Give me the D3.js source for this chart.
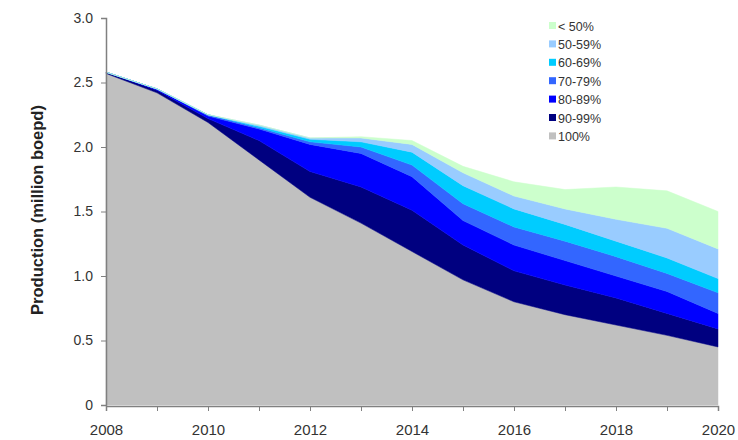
<!DOCTYPE html>
<html><head><meta charset="utf-8">
<script src="https://cdn.jsdelivr.net/npm/d3@7"></script>
<style>
html,body{margin:0;padding:0;background:#fff;}
svg{display:block;font-family:"Liberation Sans",Arial,sans-serif;}
</style></head>
<body>
<svg id="chart" width="738" height="440"></svg>
<script>
const years = [2008,2009,2010,2011,2012,2013,2014,2015,2016,2017,2018,2019,2020];
const seriesNames = ["100%","90-99%","80-89%","70-79%","60-69%","50-59%","< 50%"];
const v100 = [2.57,2.42,2.19,1.90,1.61,1.41,1.19,0.97,0.80,0.70,0.62,0.54,0.45];
const v90  = [0.01,0.02,0.03,0.15,0.20,0.28,0.32,0.27,0.24,0.23,0.21,0.17,0.14];
const v80  = [0.00,0.01,0.02,0.09,0.21,0.26,0.26,0.19,0.20,0.19,0.17,0.17,0.12];
const v70  = [0.00,0.00,0.01,0.01,0.02,0.05,0.09,0.13,0.14,0.15,0.15,0.14,0.16];
const v60  = [0.00,0.00,0.00,0.01,0.02,0.04,0.10,0.14,0.14,0.13,0.12,0.12,0.11];
const v50  = [0.00,0.00,0.00,0.01,0.01,0.03,0.06,0.10,0.10,0.12,0.17,0.23,0.23];
const vlt  = [0.00,0.00,0.00,0.00,0.00,0.01,0.03,0.05,0.11,0.15,0.25,0.29,0.29];
const seriesValues = [v100,v90,v80,v70,v60,v50,vlt];
const colors = ["#c0c0c0","#000080","#0000ff","#3366ff","#00ccff","#99ccff","#ccffcc"];
const yTicks = [0,0.5,1.0,1.5,2.0,2.5,3.0];
const yTickLabels = ["0","0.5","1.0","1.5","2.0","2.5","3.0"];
const xLabelYears = [2008,2010,2012,2014,2016,2018,2020];

(function(){
const svg = d3.select("#chart");
const mLeft = 106, mRight = 718, mTop = 18, mBottom = 405;
const x = d3.scaleLinear().domain([2008,2020]).range([mLeft,mRight]);
const y = d3.scaleLinear().domain([0,3]).range([mBottom,mTop]);

const table = years.map((yr,i)=>{const o={year:yr}; seriesNames.forEach((n,j)=>o[n]=seriesValues[j][i]); return o;});
const stack = d3.stack().keys(seriesNames)(table);
const area = d3.area().x(d=>x(d.data.year)).y0(d=>y(d[0])).y1(d=>y(d[1]));

svg.append("g").selectAll("path").data(stack).join("path")
  .attr("d",area).attr("fill",(d,i)=>colors[i]).attr("stroke",(d,i)=>colors[i]).attr("stroke-width",0.5);

const yAxis = d3.axisLeft(y).tickValues(yTicks).tickFormat((d,i)=>yTickLabels[i]).tickSize(5).tickPadding(8);
const gy = svg.append("g").attr("transform",`translate(${mLeft},0)`).call(yAxis);
gy.select(".domain").attr("stroke","#808080").attr("stroke-width",1.5);
gy.selectAll(".tick line").attr("stroke","#808080");
gy.selectAll(".tick text").attr("fill","#333").attr("font-size",14);

const xAxis = d3.axisBottom(x).tickValues(years).tickFormat(d=>xLabelYears.includes(d)?String(d):"").tickSize(5).tickPadding(13);
const gx = svg.append("g").attr("transform",`translate(0,${mBottom+1})`).call(xAxis);
gx.select(".domain").attr("stroke","#808080").attr("stroke-width",1.5);
gx.selectAll(".tick line").attr("stroke","#808080");
gx.selectAll(".tick text").attr("fill","#333").attr("font-size",15);

svg.append("text").attr("transform","translate(43,210) rotate(-90)")
  .attr("text-anchor","middle").attr("font-size",16.5).attr("font-weight","bold").attr("fill","#222")
  .text("Production (million boepd)");

const legendOrder = seriesNames.map((n,i)=>({name:n,color:colors[i]})).reverse();
const lg = svg.append("g").attr("transform","translate(549,26)");
legendOrder.forEach((d,i)=>{
  const g = lg.append("g").attr("transform",`translate(0,${i*18.4})`);
  g.append("rect").attr("x",0).attr("y",-4).attr("width",7).attr("height",7).attr("fill",d.color);
  g.append("text").attr("x",9).attr("y",4.5).attr("font-size",12.5).attr("fill","#333").text(d.name);
});
})();
</script>
</body></html>
